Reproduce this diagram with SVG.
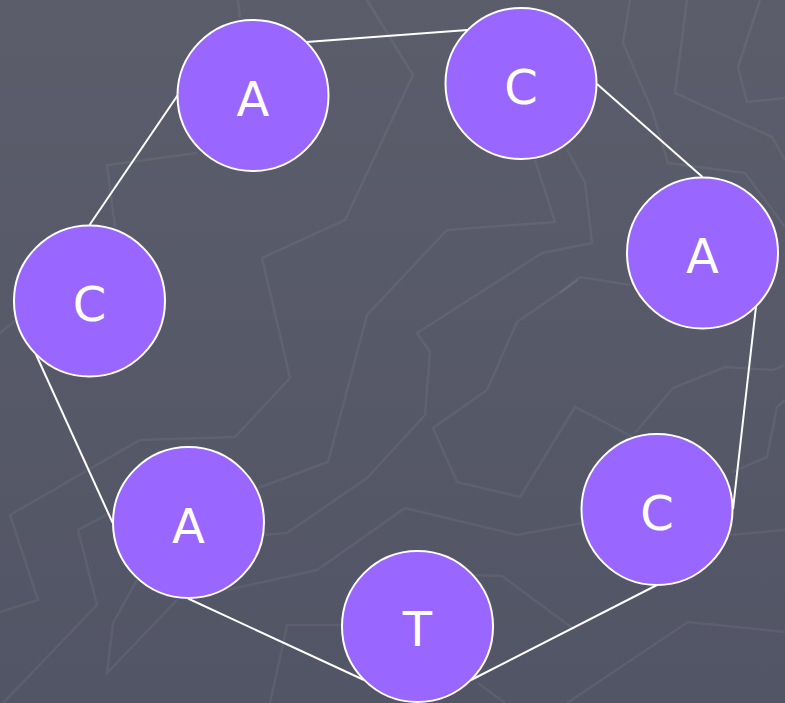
<svg xmlns="http://www.w3.org/2000/svg" width="785" height="703" viewBox="0 0 785 703">
<style>
.bgl{fill:none;stroke:#ffffff;stroke-opacity:0.06;stroke-width:2.5;stroke-linejoin:miter}
.edge{stroke:#ffffff;stroke-width:2;fill:none}
.node circle{fill:#9966ff;stroke:#ffffff;stroke-width:2}
.node text{fill:#ffffff;font-family:"DejaVu Sans",Verdana,sans-serif;font-size:48px;text-anchor:middle}
</style>
<defs>
<linearGradient id="bg" x1="0" y1="0" x2="0" y2="1">
<stop offset="0" stop-color="#5b5d6b"/>
<stop offset="1" stop-color="#525565"/>
</linearGradient>
</defs>
<rect width="785" height="703" fill="url(#bg)"/>
<g id="texture">
<polyline class="bgl" points="367,0 413,75 345,220 262,258 290,378 235,437 140,440 10,515 38,600 0,612"/>
<polyline class="bgl" points="238,0 240,18"/>
<polyline class="bgl" points="197,153 107,165 115,227"/>
<polyline class="bgl" points="535,160 555,222 447,230 367,315 328,462 258,488"/>
<polyline class="bgl" points="567,150 585,182 592,243 542,253 417,333 430,352 425,415 367,478 287,533 263,535"/>
<polyline class="bgl" points="560,293 580,277 630,285"/>
<polyline class="bgl" points="110,513 78,530 97,605 3,703"/>
<polyline class="bgl" points="137,580 113,623 107,673 177,600"/>
<polyline class="bgl" points="227,590 317,570 405,508 517,535 582,523"/>
<polyline class="bgl" points="730,535 785,530"/>
<polyline class="bgl" points="343,625 287,625 270,703"/>
<polyline class="bgl" points="472,575 502,576 575,630"/>
<polyline class="bgl" points="478,683 505,703"/>
<polyline class="bgl" points="567,703 688,622 785,632"/>
<polyline class="bgl" points="633,437 575,407 520,497 457,482 433,428 487,390 517,322 578,280"/>
<polyline class="bgl" points="635,433 673,388 725,367 773,370 785,365"/>
<polyline class="bgl" points="785,400 777,407 767,457 732,472"/>
<polyline class="bgl" points="630,0 623,43 652,110 668,163 745,173 785,227"/>
<polyline class="bgl" points="687,0 675,93 772,137 785,160"/>
<polyline class="bgl" points="760,0 738,67 747,102 785,98"/>
<polyline class="bgl" points="0,333 16,320"/>
</g>
<g id="connectors">
<line class="edge" x1="306.5" y1="42" x2="467.5" y2="30"/>
<line class="edge" x1="597" y1="84" x2="702.5" y2="177"/>
<line class="edge" x1="756" y1="306.5" x2="733" y2="509"/>
<line class="edge" x1="657" y1="585" x2="471" y2="680"/>
<line class="edge" x1="364" y1="680" x2="188" y2="598.5"/>
<line class="edge" x1="112.5" y1="522.5" x2="36" y2="354.5"/>
<line class="edge" x1="89.5" y1="225" x2="177.5" y2="95.5"/>
</g>
<g id="n1" class="node"><circle cx="253" cy="95.5" r="75.5"/><text x="253" y="115.5">A</text></g>
<g id="n2" class="node"><circle cx="521" cy="83.5" r="75.5"/><text x="521" y="103.5">C</text></g>
<g id="n3" class="node"><circle cx="702.5" cy="253" r="75.5"/><text x="702.5" y="273">A</text></g>
<g id="n4" class="node"><circle cx="657" cy="509.5" r="75.5"/><text x="657" y="529.5">C</text></g>
<g id="n5" class="node"><circle cx="417.5" cy="626.5" r="75.5"/><text x="417.5" y="646">T</text></g>
<g id="n6" class="node"><circle cx="188.5" cy="522.5" r="75.5"/><text x="188.5" y="542.5">A</text></g>
<g id="n7" class="node"><circle cx="89.5" cy="301" r="75.5"/><text x="89.5" y="321">C</text></g>
</svg>
